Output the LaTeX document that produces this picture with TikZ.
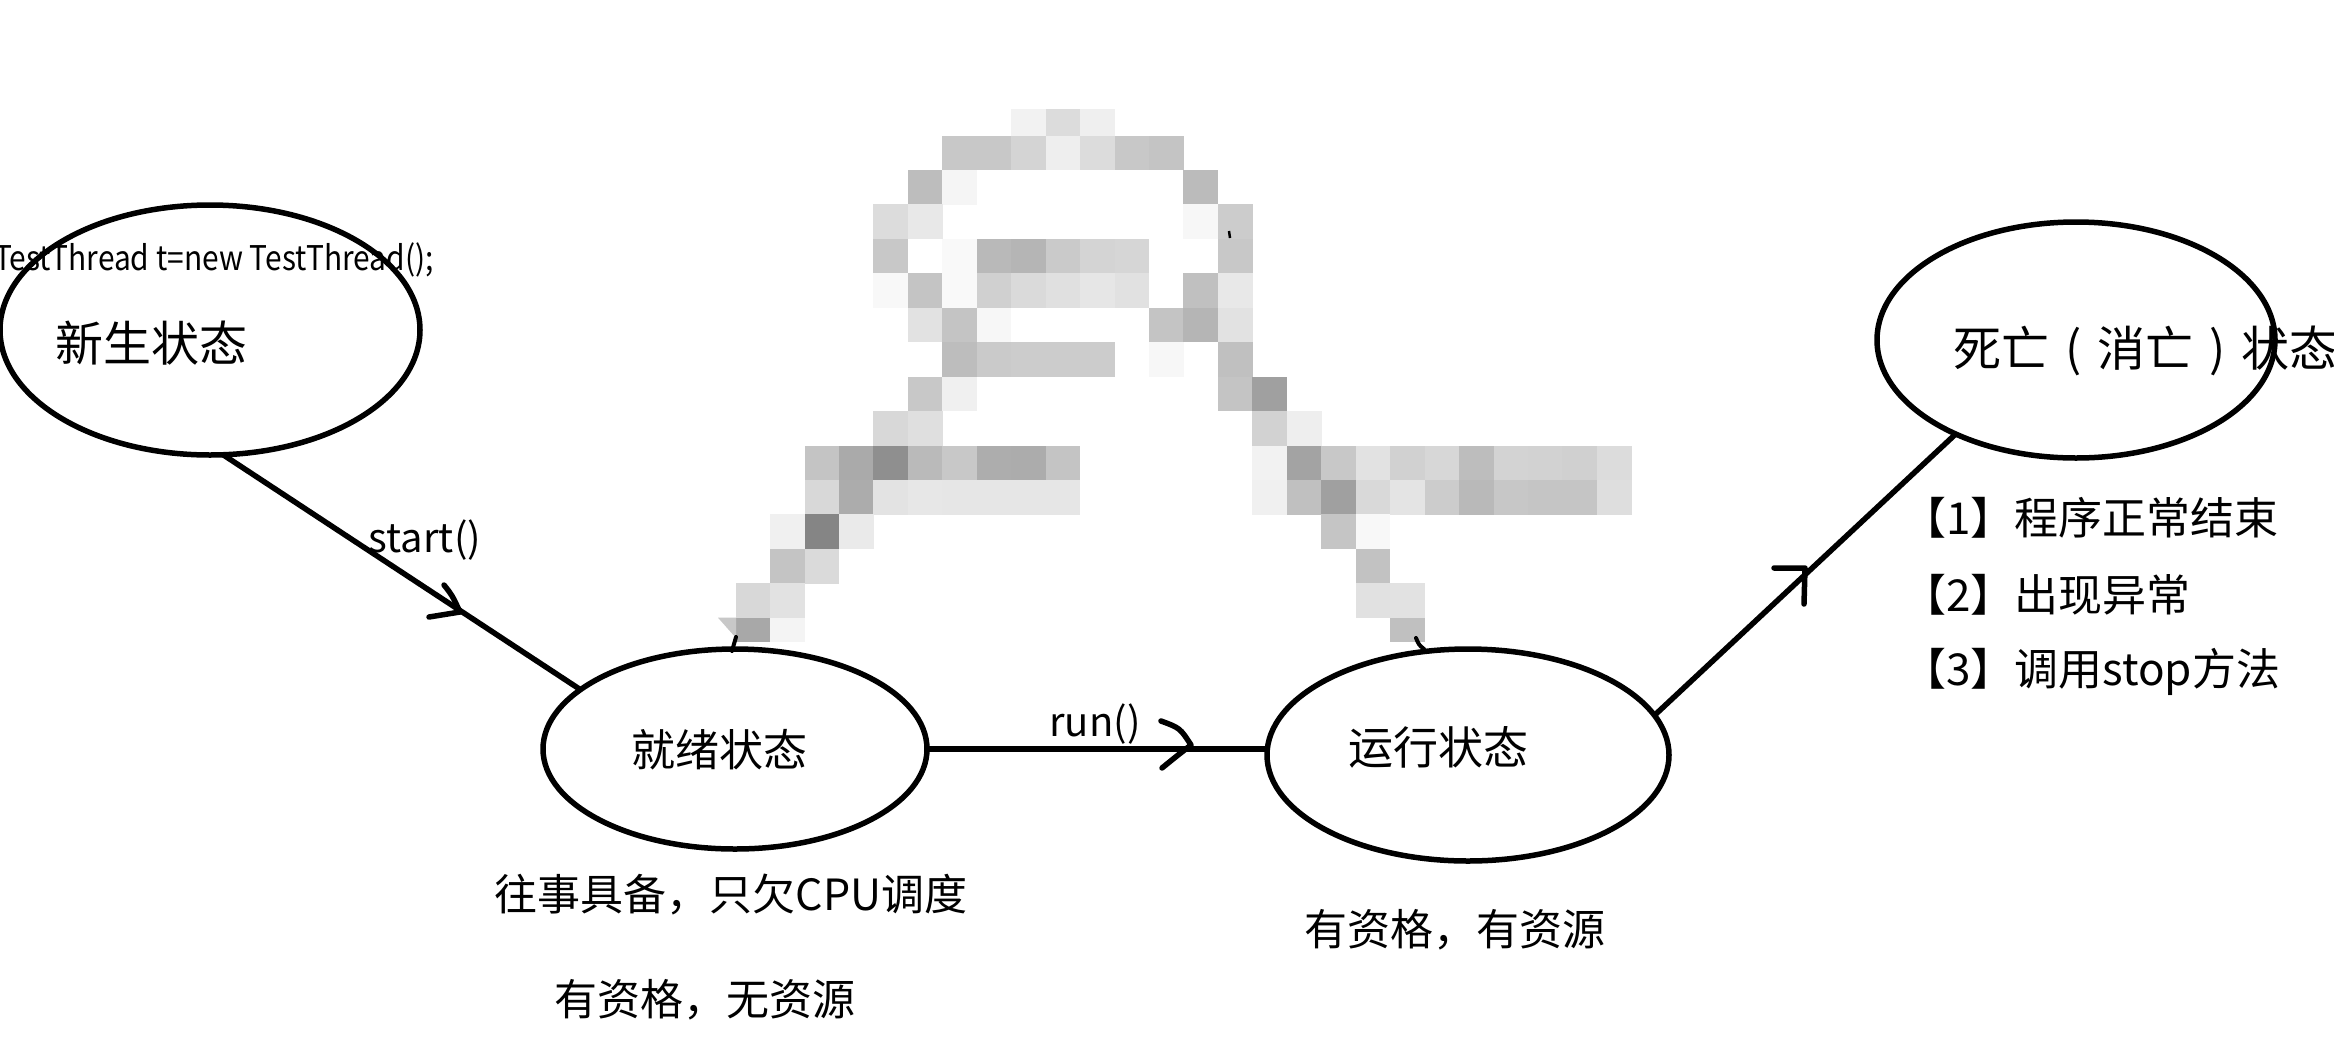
\documentclass[tikz,border=0pt]{standalone}
\usepackage{graphicx}
\usepackage{fontspec}
\setmainfont{Noto Sans CJK SC}
\usetikzlibrary{shapes.geometric}
\newcommand\mcell[3]{\fill[fill={rgb,255:red,#3;green,#3;blue,#3}] ({804.5+34.45*(#2)},{135.5+34.45*(#1)}) rectangle ++(34.7,34.7);}
\newcommand\mcelltop[2]{\fill[fill={rgb,255:red,#2;green,#2;blue,#2}] ({804.5+34.45*(#1)},108.7) rectangle ++(34.7,27);}
\newcommand\mcellbot[2]{\fill[fill={rgb,255:red,#2;green,#2;blue,#2}] ({804.5+34.45*(#1)},617.7) rectangle ++(34.7,24.5);}
\tikzset{
  st/.style={ellipse, draw=black, line width=5.5pt, inner sep=0pt, outer sep=0pt},
  txt/.style={font=\fontsize{#1pt}{#1pt}\selectfont, inner sep=0pt, text=black},
  conn/.style={line width=5.5pt, draw=black},
  headln/.style={line width=5.5pt, draw=black, line cap=round, line join=round},
  tick/.style={line width=4pt, draw=black, line cap=round}
}
\begin{document}
\begin{tikzpicture}[x=1pt,y=-1pt]
\fill[white] (0,0) rectangle (2334,1058);
\useasboundingbox (0,0) rectangle (2334,1058);

% ---------- mosaic (pixelated region) ----------
\mcelltop{6}{242}\mcelltop{7}{220}\mcelltop{8}{239}
\mcell{0}{4}{200}\mcell{0}{5}{200}\mcell{0}{6}{212}\mcell{0}{7}{238}\mcell{0}{8}{220}\mcell{0}{9}{200}\mcell{0}{10}{196}
\mcell{1}{3}{189}\mcell{1}{4}{245}\mcell{1}{11}{187}
\mcell{2}{2}{220}\mcell{2}{3}{232}\mcell{2}{11}{247}\mcell{2}{12}{204}
\mcell{3}{2}{200}\mcell{3}{4}{249}\mcell{3}{5}{185}\mcell{3}{6}{181}\mcell{3}{7}{202}\mcell{3}{8}{212}\mcell{3}{9}{214}\mcell{3}{12}{200}
\mcell{4}{2}{248}\mcell{4}{3}{196}\mcell{4}{4}{249}\mcell{4}{5}{208}\mcell{4}{6}{218}\mcell{4}{7}{224}\mcell{4}{8}{230}\mcell{4}{9}{225}\mcell{4}{11}{192}\mcell{4}{12}{232}
\mcell{5}{3}{226}\mcell{5}{4}{196}\mcell{5}{5}{247}\mcell{5}{10}{196}\mcell{5}{11}{181}\mcell{5}{12}{226}
\mcell{6}{4}{189}\mcell{6}{5}{202}\mcell{6}{6}{204}\mcell{6}{7}{204}\mcell{6}{8}{204}\mcell{6}{10}{247}\mcell{6}{12}{192}
\mcell{7}{3}{200}\mcell{7}{4}{240}\mcell{7}{12}{196}\mcell{7}{13}{160}
\mcell{8}{2}{216}\mcell{8}{3}{223}\mcell{8}{13}{210}\mcell{8}{14}{238}
\mcell{9}{0}{196}\mcell{9}{1}{170}\mcell{9}{2}{143}\mcell{9}{3}{186}\mcell{9}{4}{200}\mcell{9}{5}{173}\mcell{9}{6}{172}\mcell{9}{7}{196}
\mcell{9}{13}{242}\mcell{9}{14}{163}\mcell{9}{15}{200}\mcell{9}{16}{226}\mcell{9}{17}{209}\mcell{9}{18}{215}\mcell{9}{19}{189}\mcell{9}{20}{211}\mcell{9}{21}{210}\mcell{9}{22}{208}\mcell{9}{23}{220}
\mcell{10}{0}{216}\mcell{10}{1}{172}\mcell{10}{2}{227}\mcell{10}{3}{231}\mcell{10}{4}{230}\mcell{10}{5}{230}\mcell{10}{6}{230}\mcell{10}{7}{230}
\mcell{10}{13}{240}\mcell{10}{14}{192}\mcell{10}{15}{160}\mcell{10}{16}{217}\mcell{10}{17}{228}\mcell{10}{18}{204}\mcell{10}{19}{185}\mcell{10}{20}{199}\mcell{10}{21}{197}\mcell{10}{22}{197}\mcell{10}{23}{222}
\mcell{11}{-1}{240}\mcell{11}{0}{133}\mcell{11}{1}{234}\mcell{11}{15}{197}\mcell{11}{16}{248}
\mcell{12}{-1}{196}\mcell{12}{0}{218}\mcell{12}{16}{194}
\mcell{13}{-2}{216}\mcell{13}{-1}{226}\mcell{13}{16}{225}\mcell{13}{17}{226}
\mcellbot{-2}{168}\mcellbot{-1}{244}\mcellbot{17}{192}
\fill[fill={rgb,255:red,200;green,200;blue,200}] (718,617.7) -- (736,617.7) -- (736,638) -- cycle;

% ---------- states ----------
\node[st, minimum width=420pt, minimum height=250pt] (e1) at (210,330) {};
\node[st, minimum width=384pt, minimum height=200pt] (e2) at (735,749) {};
\node[st, minimum width=402pt, minimum height=212pt] (e3) at (1468,755) {};
\node[st, minimum width=398pt, minimum height=236pt] (e4) at (2076,340) {};

% small marks left of the pixelated region
\draw[tick] (736,637) -- (732,651);
\draw[tick] (1416,638) .. controls (1419,645) .. (1424,649);
\draw[line width=2.5pt] (1229,231) -- (1230,238);

% ---------- texts ----------
\node[txt=34, anchor=base west] (code) at (-6,270) {\scalebox{0.88}[1]{TestThread t=new TestThread();}};
\node[txt=48] (t1) at (151,343) {新生状态};
\node[txt=44] (t2) at (719,750) {就绪状态};
\node[txt=45] (t3) at (1438,747) {运行状态};
\node[txt=48, anchor=west] (t4) at (1953,351) {死亡\makebox[1em]{(}消亡\makebox[1em]{)}状态};
\node[txt=40] (lstart) at (425,540) {start()};
\node[txt=40] (lrun) at (1095,724) {run()};
\node[txt=44, anchor=west] (r1) at (1902,518) {【1】程序正常结束};
\node[txt=44, anchor=west] (r2) at (1902,595) {【2】出现异常};
\node[txt=44, anchor=west] (r3) at (1902,672) {【3】调用stop方法};
\node[txt=43] (n2a) at (731,895) {往事具备，只欠CPU调度};
\node[txt=43] (n2b) at (705,1000) {有资格，无资源};
\node[txt=43] (n3) at (1455,930) {有资格，有资源};

% ---------- connectors ----------
\draw[conn] (e1.-84) -- (e2.159);
\draw[conn] (e2.east) -- (e3.west |- e2.east);
\draw[conn] (e3.12) -- (e4.218);

% hand-drawn arrow heads
\draw[headln] (444,585) .. controls (452,595) .. (460,612) -- (429,617);
\draw[headln] (1161,721) .. controls (1180,728) .. (1191,745) .. controls (1178,755) .. (1162,768);
\draw[headln] (1774,568) -- (1805,568) -- (1804,604);
\end{tikzpicture}
\end{document}
